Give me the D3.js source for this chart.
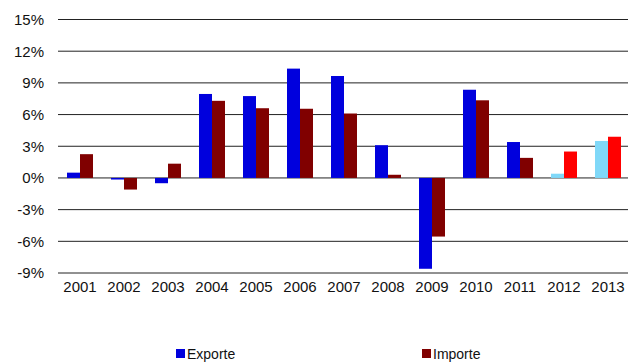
<!DOCTYPE html>
<html>
<head>
<meta charset="utf-8">
<script src="https://cdn.jsdelivr.net/npm/d3@7"></script>
<style>
  body { margin: 0; background: #fff; }
  svg { display: block; font-family: "Liberation Sans", Arial, sans-serif; }
</style>
</head>
<body>
<svg id="chart" width="628" height="362"></svg>
<script>
// Wachstum Exporte / Importe in %
const years = ["2001","2002","2003","2004","2005","2006","2007","2008","2009","2010","2011","2012","2013"];
const exporte = [0.5, -0.15, -0.5, 7.95, 7.75, 10.35, 9.65, 3.1, -8.6, 8.35, 3.4, 0.4, 3.5];
const importe = [2.25, -1.1, 1.35, 7.3, 6.6, 6.55, 6.1, 0.3, -5.55, 7.35, 1.9, 2.5, 3.9];
const prognose = ["2012", "2013"];
const yTicks = [-9, -6, -3, 0, 3, 6, 9, 12, 15];
const seriesNames = ["Exporte", "Importe"];

const svg = d3.select("#chart");

const x = d3.scaleBand()
  .domain(years)
  .range([58, 630])
  .padding(0);

const y = d3.scaleLinear()
  .domain([-9, 15])
  .range([273, 19.5]);

const barW = 13;

// grid lines
svg.append("g")
  .selectAll("line")
  .data(yTicks)
  .join("line")
  .attr("x1", 58)
  .attr("x2", 628)
  .attr("y1", d => y(d))
  .attr("y2", d => y(d))
  .attr("stroke", "#222")
  .attr("stroke-width", 1);

// y labels
svg.append("g")
  .selectAll("text")
  .data(yTicks)
  .join("text")
  .attr("x", 44)
  .attr("y", d => y(d))
  .attr("dy", "0.36em")
  .attr("text-anchor", "end")
  .attr("font-size", 15)
  .attr("fill", "#111")
  .text(d => d + "%");

// x labels
svg.append("g")
  .selectAll("text")
  .data(years)
  .join("text")
  .attr("x", d => x(d) + x.bandwidth() / 2)
  .attr("y", 292)
  .attr("text-anchor", "middle")
  .attr("font-size", 15)
  .attr("fill", "#111")
  .text(d => d);

const expColor = d => prognose.includes(d) ? "#80d8f8" : "#0000dd";
const impColor = d => prognose.includes(d) ? "#ff0000" : "#800000";

// bars
svg.append("g")
  .selectAll("rect")
  .data(years.map((d, i) => ({ year: d, v: exporte[i] })))
  .join("rect")
  .attr("x", d => x(d.year) + x.bandwidth() / 2 - barW)
  .attr("y", d => y(Math.max(0, d.v)))
  .attr("width", barW)
  .attr("height", d => Math.abs(y(d.v) - y(0)))
  .attr("fill", d => expColor(d.year));

svg.append("g")
  .selectAll("rect")
  .data(years.map((d, i) => ({ year: d, v: importe[i] })))
  .join("rect")
  .attr("x", d => x(d.year) + x.bandwidth() / 2)
  .attr("y", d => y(Math.max(0, d.v)))
  .attr("width", barW)
  .attr("height", d => Math.abs(y(d.v) - y(0)))
  .attr("fill", d => impColor(d.year));

// legend (sits at the very bottom edge, nudged up so the text stays whole)
const legend = svg.append("g")
  .selectAll("g")
  .data(seriesNames)
  .join("g")
  .attr("transform", (d, i) => `translate(${i === 0 ? 176 : 422},349)`);

legend.append("rect")
  .attr("width", 9)
  .attr("height", 9)
  .attr("fill", (d, i) => i === 0 ? "#0000dd" : "#800000");

legend.append("text")
  .attr("x", 11)
  .attr("y", 9.5)
  .attr("font-size", 14)
  .attr("fill", "#111")
  .text(d => d);
</script>
</body>
</html>
